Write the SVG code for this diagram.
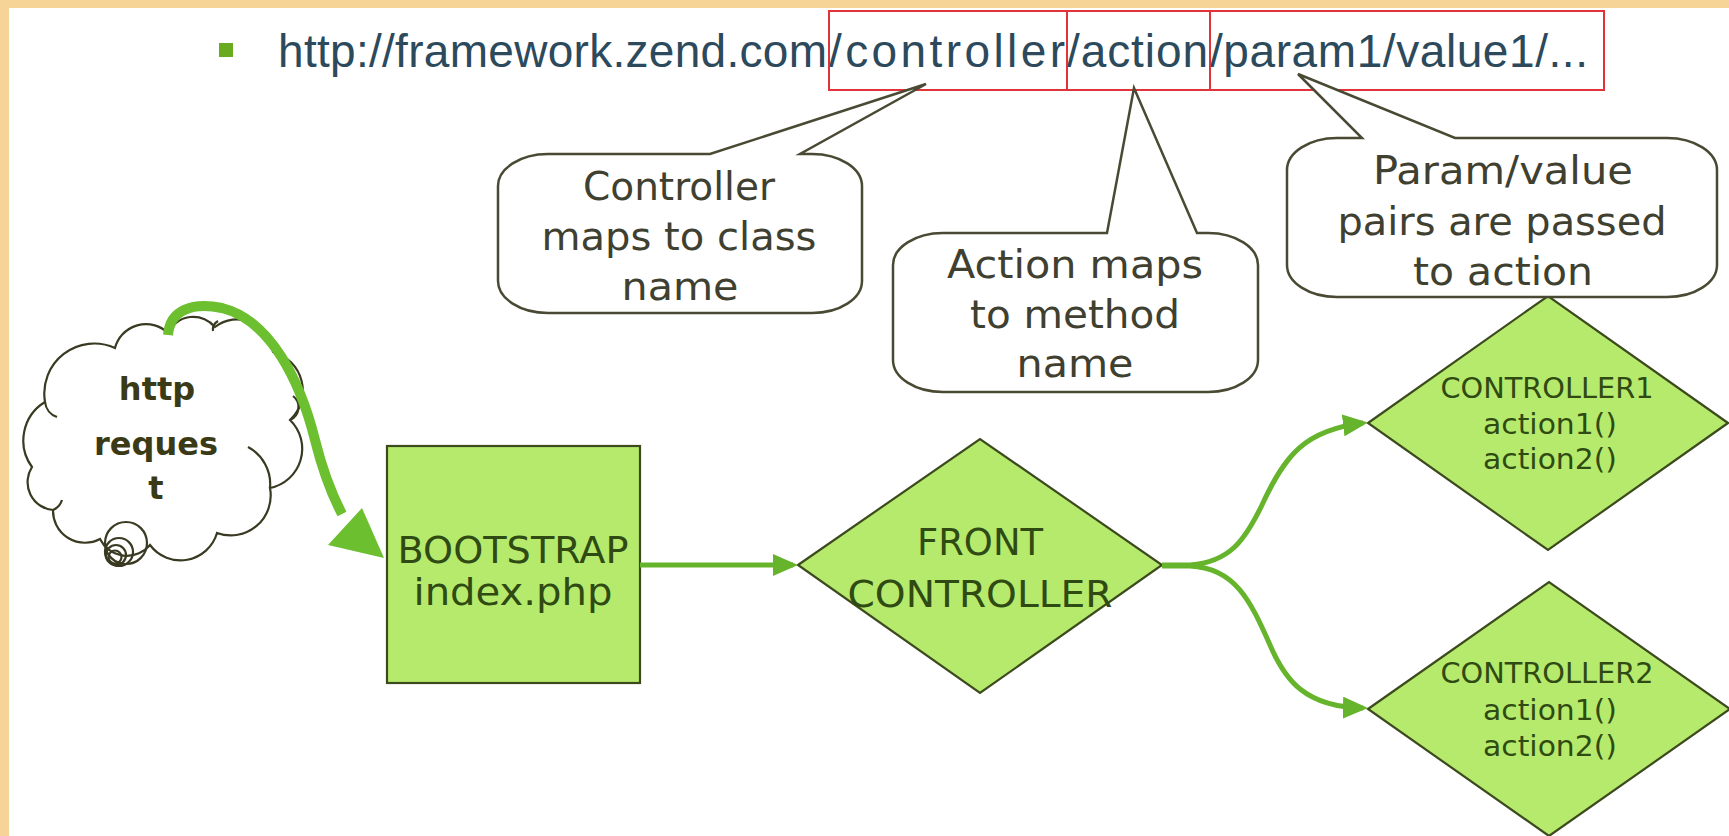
<svg xmlns="http://www.w3.org/2000/svg" width="1729" height="836" viewBox="0 0 1729 836">
<style>
.url{font-family:"Liberation Sans",Arial,sans-serif;font-size:46px;fill:#2c4a5c}
.co{fill:#ffffff;stroke:#4a4a34;stroke-width:2.5}
.ct{font-family:"DejaVu Sans",sans-serif;font-size:39px;fill:#404030;text-anchor:middle}
.nd{fill:#b6ea6c;stroke:#3c4a1e;stroke-width:2.2}
.nt{font-family:"DejaVu Sans",sans-serif;font-size:38px;fill:#2f4a12;text-anchor:middle}
.st{font-family:"DejaVu Sans",sans-serif;font-size:29px;fill:#2f4a12;text-anchor:middle}
.cl{fill:#ffffff;stroke:#3a3a22;stroke-width:2.2}
.cli{fill:none;stroke:#3a3a22;stroke-width:2.2}
.ht{font-family:"DejaVu Sans",sans-serif;font-weight:bold;font-size:32px;fill:#3a3a16;text-anchor:middle}
.cn{fill:none;stroke:#66b32c;stroke-width:5}
</style>
<defs>
<marker id="arr" viewBox="0 0 10 10" refX="8" refY="5" markerWidth="25" markerHeight="22" markerUnits="userSpaceOnUse" orient="auto" preserveAspectRatio="none">
<path d="M0,0 L10,5 L0,10 z" fill="#66b32c"/>
</marker>
</defs>
<rect x="0" y="0" width="1729" height="836" fill="#f6d396"/>
<rect x="9" y="8" width="1720" height="828" fill="#ffffff"/>

<g id="url">
<rect x="219" y="43" width="14" height="14" fill="#6aaa1e"/>
<text class="url" x="278" y="67" textLength="549" lengthAdjust="spacing">http://framework.zend.com</text>
<text class="url" x="829" y="67" textLength="236" lengthAdjust="spacing">/controller</text>
<text class="url" x="1067" y="67" textLength="141" lengthAdjust="spacing">/action</text>
<text class="url" x="1210" y="67" textLength="378" lengthAdjust="spacing">/param1/value1/...</text>
<rect x="829" y="11" width="775" height="79" fill="none" stroke="#e0343a" stroke-width="2"/>
<line x1="1067" y1="11" x2="1067" y2="90" stroke="#e0343a" stroke-width="2"/>
<line x1="1210" y1="11" x2="1210" y2="90" stroke="#e0343a" stroke-width="2"/>
</g>

<g id="callout-controller">
<path class="co" d="M548,154 L710,154 L926,84 L800,154 L812,154 A50,32 0 0 1 862,186 L862,281 A50,32 0 0 1 812,313 L548,313 A50,32 0 0 1 498,281 L498,186 A50,32 0 0 1 548,154 Z"/>
<text class="ct" x="679" y="200" textLength="192" lengthAdjust="spacingAndGlyphs">Controller</text>
<text class="ct" x="679" y="250" textLength="275" lengthAdjust="spacingAndGlyphs">maps to class</text>
<text class="ct" x="680" y="300" textLength="117" lengthAdjust="spacingAndGlyphs">name</text>
</g>

<g id="callout-action">
<path class="co" d="M943,233 L1107,233 L1134,88 L1197,233 L1208,233 A50,32 0 0 1 1258,265 L1258,360 A50,32 0 0 1 1208,392 L943,392 A50,32 0 0 1 893,360 L893,265 A50,32 0 0 1 943,233 Z"/>
<text class="ct" x="1075" y="278" textLength="256" lengthAdjust="spacingAndGlyphs">Action maps</text>
<text class="ct" x="1075" y="328" textLength="210" lengthAdjust="spacingAndGlyphs">to method</text>
<text class="ct" x="1075" y="377" textLength="117" lengthAdjust="spacingAndGlyphs">name</text>
</g>

<g id="controller1">
<polygon class="nd" points="1368,423 1548,296 1728,423 1548,550"/>
<text class="st" x="1547" y="398" textLength="213" lengthAdjust="spacingAndGlyphs">CONTROLLER1</text>
<text class="st" x="1550" y="434" textLength="134" lengthAdjust="spacingAndGlyphs">action1()</text>
<text class="st" x="1550" y="469" textLength="134" lengthAdjust="spacingAndGlyphs">action2()</text>
</g>

<g id="callout-param">
<path class="co" d="M1337,138 L1362,138 L1298,74 L1455,138 L1667,138 A50,32 0 0 1 1717,170 L1717,265 A50,32 0 0 1 1667,297 L1337,297 A50,32 0 0 1 1287,265 L1287,170 A50,32 0 0 1 1337,138 Z"/>
<text class="ct" x="1503" y="184" textLength="260" lengthAdjust="spacingAndGlyphs">Param/value</text>
<text class="ct" x="1502" y="235" textLength="329" lengthAdjust="spacingAndGlyphs">pairs are passed</text>
<text class="ct" x="1503" y="285" textLength="180" lengthAdjust="spacingAndGlyphs">to action</text>
</g>

<g id="controller2">
<polygon class="nd" points="1368,709 1549,582 1730,709 1549,836"/>
<text class="st" x="1547" y="683" textLength="213" lengthAdjust="spacingAndGlyphs">CONTROLLER2</text>
<text class="st" x="1550" y="720" textLength="134" lengthAdjust="spacingAndGlyphs">action1()</text>
<text class="st" x="1550" y="756" textLength="134" lengthAdjust="spacingAndGlyphs">action2()</text>
</g>

<g id="http-request">
<path class="cl" d="M32,467 A45,45 0 0 1 45,402 A50,50 0 0 1 115,348 A32,32 0 0 1 168,333 A28,28 0 0 1 215,327 A36,36 0 0 1 273,352 A40,40 0 0 1 290,420 A40,40 0 0 1 270,488 A40,40 0 0 1 217,533 A38,38 0 0 1 150,545 A30,30 0 0 1 100,539 A32,32 0 0 1 53,510 A28,28 0 0 1 32,467 Z"/>
<path class="cli" d="M248,447 A42,42 0 0 1 270,488"/>
<path class="cli" d="M213,331 A10,10 0 0 1 218,321"/>
<path class="cli" d="M290,420 A14,14 0 0 0 293,396"/>
<path class="cli" d="M45,402 A18,18 0 0 0 57,417"/>
<path class="cli" d="M53,510 A16,16 0 0 0 62,500"/>
<circle class="cli" cx="126" cy="543" r="21"/>
<circle class="cli" cx="119" cy="552" r="14"/>
<circle class="cli" cx="116" cy="555" r="10"/>
<circle class="cli" cx="115" cy="557" r="6.5"/>
<text class="ht" x="157" y="400">http</text>
<text class="ht" x="156" y="455">reques</text>
<text class="ht" x="156" y="499">t</text>
</g>

<g id="bootstrap">
<rect class="nd" x="387" y="446" width="253" height="237"/>
<text class="nt" x="513" y="563" textLength="231" lengthAdjust="spacingAndGlyphs">BOOTSTRAP</text>
<text class="nt" x="513" y="605" textLength="199" lengthAdjust="spacingAndGlyphs">index.php</text>
</g>

<g id="front-controller">
<polygon class="nd" points="798,565 980,439 1162,565 980,693"/>
<text class="nt" x="980" y="555" textLength="126" lengthAdjust="spacingAndGlyphs">FRONT</text>
<text class="nt" x="980" y="607" textLength="265" lengthAdjust="spacingAndGlyphs">CONTROLLER</text>
</g>

<g id="connectors">
<path d="M168,335 C170,310 192,302 222,308 C270,320 300,380 315,440 C322,468 331,493 342,514" fill="none" stroke="#6cbf2e" stroke-width="10"/>
<polygon points="328,545 362,508 384,558" fill="#6cbf2e"/>
<path class="cn" d="M640,565 L793,565" marker-end="url(#arr)"/>
<path class="cn" d="M1162,565 L1190,565 C1230,562 1245,540 1262,505 C1285,455 1305,430 1363,423" marker-end="url(#arr)"/>
<path class="cn" d="M1162,566 L1190,566 C1235,568 1250,600 1270,645 C1285,680 1305,707 1363,708" marker-end="url(#arr)"/>
</g>
</svg>
